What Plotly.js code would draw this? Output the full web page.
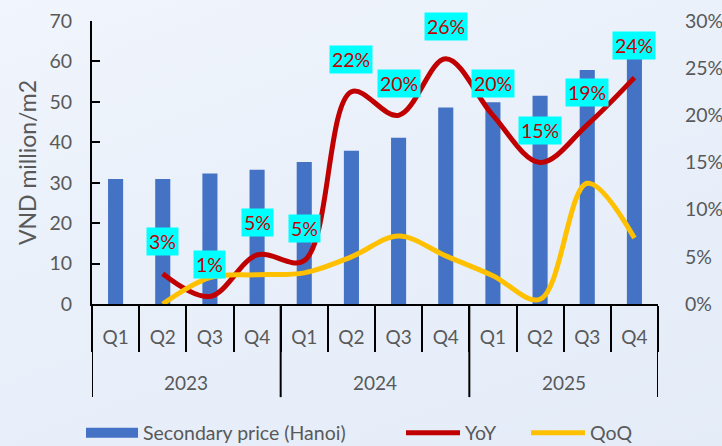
<!DOCTYPE html>
<html>
<head>
<meta charset="utf-8">
<script src="https://cdn.plot.ly/plotly-3.0.1.min.js"></script>
<style>
html,body{margin:0;padding:0;}
body{width:722px;height:446px;background:linear-gradient(160deg,#F1F5FC 0%,#E9F0FA 45%,#E4ECF8 100%);}
#chart{width:722px;height:446px;}
</style>
</head>
<body>
<div id="chart"></div>
<script>
// ---- data ----
var years = ["2023","2023","2023","2023","2024","2024","2024","2024","2025","2025","2025","2025"];
var quarters = ["Q1","Q2","Q3","Q4","Q1","Q2","Q3","Q4","Q1","Q2","Q3","Q4"];
var price = [30.9, 30.9, 32.3, 33.2, 35.1, 37.9, 41.1, 48.6, 49.9, 51.5, 57.9, 61.0];
var yoy = [null, 3.2, 0.8, 5.2, 4.6, 22.5, 20.0, 26.0, 20.0, 15.0, 19.0, 24.0];
var qoq = [null, 0.0, 2.8, 3.1, 3.3, 5.0, 7.2, 5.1, 3.0, 0.5, 12.8, 7.0];
var yoyLabels = [null, "3%", "1%", "5%", "5%", "22%", "20%", "26%", "20%", "15%", "19%", "24%"];
var seriesNames = ["Secondary price (Hanoi)", "YoY", "QoQ"];

var ids = quarters.map(function(q, i){ return years[i] + " " + q; });

var FONT = "Lato, 'Open Sans', sans-serif";
var GREY = "#595959";
var BLUE = "#4472C4", RED = "#C00000", GOLD = "#FFC000";

var traces = [
  {type:"bar", name:seriesNames[0], x: ids, y: price, showlegend:false,
   marker:{color:BLUE}, width:0.32, xaxis:"x", yaxis:"y"},
  // legend key for the bars (wide block like the original)
  {type:"scatter", mode:"lines", name:seriesNames[0], x:[null], y:[null],
   line:{color:BLUE, width:14}, legend:"legend", hoverinfo:"skip"},
  {type:"scatter", mode:"lines", name:seriesNames[1], x: ids, y: yoy, legend:"legend2",
   line:{color:RED, width:5, shape:"spline", smoothing:1.0}, xaxis:"x", yaxis:"y2"},
  {type:"scatter", mode:"lines", name:seriesNames[2], x: ids, y: qoq, legend:"legend3",
   line:{color:GOLD, width:5, shape:"spline", smoothing:1.0}, xaxis:"x", yaxis:"y2"}
];

// annotations: YoY value labels
var annotations = [];
yoy.forEach(function(v, i){
  if (v === null) return;
  annotations.push({x: ids[i], y: v, xref:"x", yref:"y2", text: yoyLabels[i],
    showarrow:false, yshift:32, bgcolor:"#00FFFF", borderpad:2,
    font:{family:FONT, size:19.5, color:RED}});
});

// year groups: labels + dividers
var shapes = [];
var groups = [];
years.forEach(function(y, i){
  if (!groups.length || groups[groups.length-1].name !== y) groups.push({name:y, start:i, end:i});
  else groups[groups.length-1].end = i;
});
groups.forEach(function(g, k){
  annotations.push({x:(g.start + g.end)/2, y:-0.278, xref:"x", yref:"paper", yanchor:"middle",
    text:g.name, showarrow:false, font:{family:FONT, size:19, color:GREY}});
  shapes.push({type:"line", xref:"x", yref:"paper", x0:g.start-0.5, x1:g.start-0.5, y0:0, y1:-0.329,
    line:{color:"#000", width:2}});
  if (k === groups.length-1)
    shapes.push({type:"line", xref:"x", yref:"paper", x0:g.end+0.5, x1:g.end+0.5, y0:0, y1:-0.329,
      line:{color:"#000", width:2}});
});

function legendAt(px, w){
  return {orientation:"h", xref:"container", yref:"container", x:px/722, xanchor:"left",
    y:(446-433)/446, yanchor:"middle", itemwidth:w, bgcolor:"rgba(0,0,0,0)", borderwidth:0,
    font:{family:FONT, size:19.5, color:GREY}};
}

var layout = {
  width:722, height:446,
  margin:{l:92, r:64, t:21, b:142},
  paper_bgcolor:"rgba(0,0,0,0)", plot_bgcolor:"rgba(0,0,0,0)",
  font:{family:FONT, color:GREY, size:18},
  showlegend:true,
  legend: legendAt(81, 52),
  legend2: legendAt(401, 54),
  legend3: legendAt(526, 54),
  xaxis:{type:"category", tickvals: ids, ticktext: quarters, range:[-0.5, 11.5],
    showline:true, linecolor:"#000", linewidth:2, showgrid:false, zeroline:false,
    ticks:"outside", tickson:"boundaries", ticklen:46, tickwidth:2, tickcolor:"#000",
    ticklabelstandoff:15, tickfont:{family:FONT, size:19, color:GREY}, fixedrange:true},
  yaxis:{range:[0,70], dtick:10, showline:true, linecolor:"#000", linewidth:2,
    showgrid:false, zeroline:false, ticks:"inside", ticklen:8, tickwidth:2, tickcolor:"#000",
    ticklabelstandoff:14, tickfont:{family:FONT, size:19.5, color:GREY},
    title:{text:"VND million/m2", font:{family:FONT, size:23, color:GREY}, standoff:6}},
  yaxis2:{range:[0,30], dtick:5, overlaying:"y", side:"right", showline:false, showgrid:false,
    zeroline:false, ticks:"", ticksuffix:"%", ticklabelstandoff:26,
    tickfont:{family:FONT, size:19.5, color:GREY}},
  annotations: annotations,
  shapes: shapes
};

Plotly.newPlot("chart", traces, layout, {displayModeBar:false, staticPlot:true});
</script>
</body>
</html>
